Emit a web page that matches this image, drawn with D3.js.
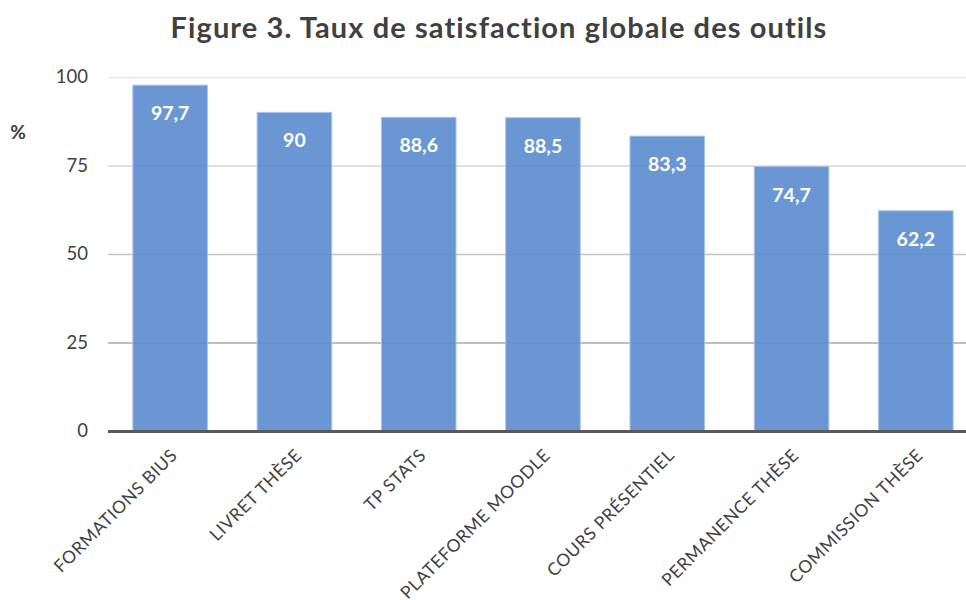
<!DOCTYPE html>
<html>
<head>
<meta charset="utf-8">
<script src="https://cdn.jsdelivr.net/npm/d3@7"></script>
<style>
  body { margin: 0; background: #fff; }
  svg { display: block; font-family: Lato, "Open Sans", sans-serif; }
</style>
</head>
<body>
<svg id="chart"></svg>
<script>
const categories = ['FORMATIONS BIUS', 'LIVRET THÈSE', 'TP STATS', 'PLATEFORME MOODLE',
  'COURS PRÉSENTIEL', 'PERMANENCE THÈSE', 'COMMISSION THÈSE'];
const values = [97.7, 90, 88.6, 88.5, 83.3, 74.7, 62.2];
const yTicks = [0, 25, 50, 75, 100];
const gridColors = ['#595959', '#aaaaaa', '#c4c4c4', '#d6d6d6', '#e6e6e6'];

const svgWidth = 966;
const svgHeight = 600;
const margin = { top: 77, left: 108, bottom: 169 };

const svg = d3.select('#chart')
  .attr('width', svgWidth)
  .attr('height', svgHeight);

const xScale = d3.scaleBand()
  .domain(categories)
  .range([margin.left, 978])
  .paddingInner(0.4)
  .paddingOuter(0.2);

const yScale = d3.scaleLinear()
  .domain([0, 100])
  .range([svgHeight - margin.bottom, margin.top]);

// title
svg.append('text')
  .attr('x', 499)
  .attr('y', 38)
  .attr('text-anchor', 'middle')
  .attr('font-size', 29)
  .attr('font-weight', 'bold')
  .attr('letter-spacing', 1.1)
  .attr('fill', '#404040')
  .text('Figure 3. Taux de satisfaction globale des outils');

// gridlines
svg.append('g')
  .selectAll('line')
  .data(yTicks.slice(1))
  .enter()
  .append('line')
  .attr('x1', margin.left)
  .attr('x2', svgWidth)
  .attr('y1', d => yScale(d) + 0.5)
  .attr('y2', d => yScale(d) + 0.5)
  .attr('stroke', (d, i) => gridColors[i + 1])
  .attr('stroke-width', 1.5);

// y axis labels
const yAxis = svg.append('g')
  .attr('transform', `translate(${margin.left - 20}, 0)`)
  .call(d3.axisLeft(yScale).tickValues(yTicks).tickSize(0).tickPadding(0));
yAxis.select('.domain').remove();
yAxis.selectAll('text')
  .attr('font-family', 'Lato, sans-serif')
  .attr('font-size', 18.5)
  .attr('fill', '#404040');

svg.append('text')
  .attr('x', 18)
  .attr('y', 139)
  .attr('text-anchor', 'middle')
  .attr('font-size', 19)
  .attr('font-weight', 'bold')
  .attr('fill', '#404040')
  .text('%');

// bars
svg.append('g')
  .selectAll('rect')
  .data(values)
  .enter()
  .append('rect')
  .attr('x', (d, i) => xScale(categories[i]))
  .attr('y', d => yScale(d))
  .attr('width', xScale.bandwidth())
  .attr('height', d => yScale(0) - yScale(d))
  .attr('fill', '#5a8ccf')
  .attr('fill-opacity', 0.9)
  .attr('stroke', '#a8c3e8')
  .attr('stroke-width', 1);

// value labels
svg.append('g')
  .selectAll('text')
  .data(values)
  .enter()
  .append('text')
  .attr('x', (d, i) => xScale(categories[i]) + xScale.bandwidth() / 2)
  .attr('y', d => yScale(d) + 35)
  .attr('text-anchor', 'middle')
  .attr('font-size', 19.5)
  .attr('font-weight', 'bold')
  .attr('fill', '#ffffff')
  .text(d => String(d).replace('.', ','));

// x axis
svg.append('line')
  .attr('x1', margin.left)
  .attr('x2', svgWidth)
  .attr('y1', yScale(0) + 0.5)
  .attr('y2', yScale(0) + 0.5)
  .attr('stroke', gridColors[0])
  .attr('stroke-width', 3);

const xAxis = svg.append('g')
  .attr('transform', `translate(0, ${yScale(0)})`)
  .call(d3.axisBottom(xScale).tickSize(0).tickPadding(0));
xAxis.select('.domain').remove();
xAxis.selectAll('text')
  .attr('font-family', 'Lato, sans-serif')
  .attr('font-size', 17.5)
  .attr('letter-spacing', 0.6)
  .attr('fill', '#404040')
  .attr('text-anchor', 'end')
  .attr('dy', '0.35em')
  .attr('transform', 'translate(4, 21) rotate(-45)');
</script>
</body>
</html>
